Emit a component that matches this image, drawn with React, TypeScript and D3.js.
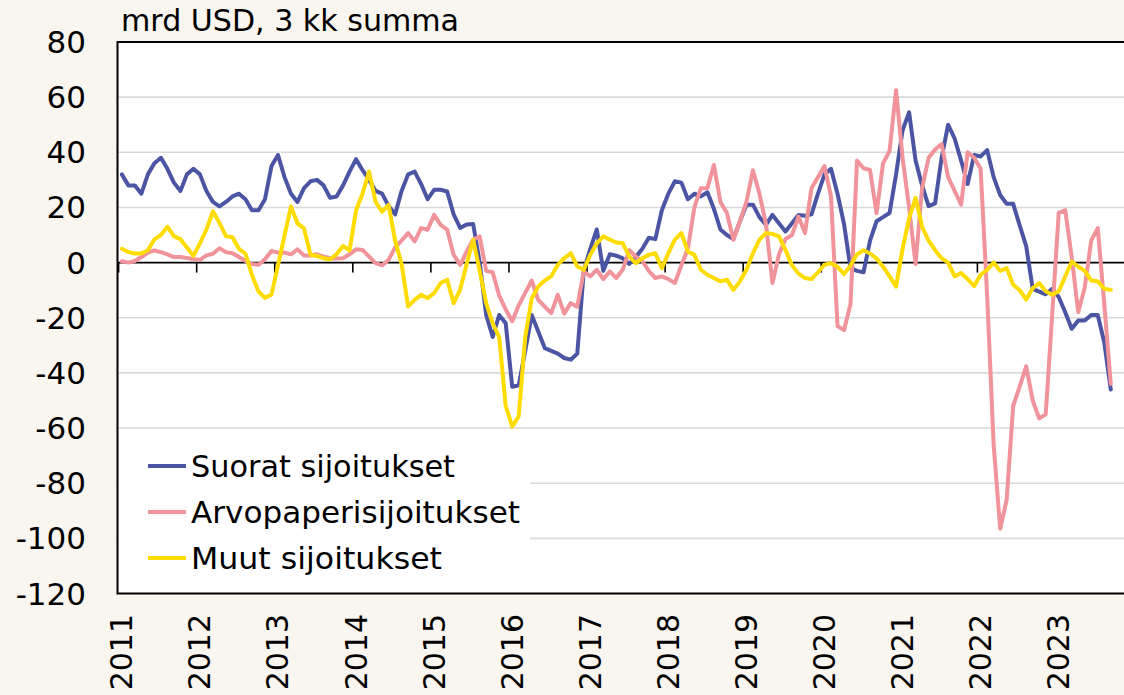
import React from 'react';
import * as d3 from 'd3';

// Category axis: monthly, Jan 2011 .. Dec 2023 (labels every 12 months)
const years = ['2011', '2012', '2013', '2014', '2015', '2016', '2017', '2018', '2019', '2020', '2021', '2022', '2023'];

// mrd USD, 3 kk summa — Jan 2011 .. Sep 2023
const suorat = [
  32, 28, 28, 25, 32, 36, 38, 34, 29, 26, 32, 34,
  32, 26, 22, 20.4, 22, 24, 25, 23, 19, 19, 23, 35,
  39, 31, 25, 22, 27, 29.5, 30, 28, 23.5, 24, 28, 33,
  37.5, 33.5, 30, 26, 25, 20.5, 17.5, 26, 32, 33, 28.5, 23,
  26.4, 26.4, 25.8, 17.5, 12.6, 13.8, 14, 0, -19, -27, -19, -22,
  -45, -44.5, -32, -19, -25, -31, -32, -33, -34.6, -35.2, -33, -3,
  5, 12, -3, 3, 2.5, 1.5, -0.5, 2, 5, 9, 8.5, 19,
  25, 29.5, 29, 23, 25, 24, 25.5, 19.5, 12, 10, 8.5, 15,
  21, 21, 16.5, 13.7, 17.3, 14.3, 11.3, 14.3, 17.3, 17, 17.5, 25,
  32, 34, 25, 14, -2, -3, -3.5, 8, 15, 16.5, 18, 32,
  48, 54.5, 37, 28, 20.5, 21.5, 38, 50, 45, 37, 28.5, 39,
  38.5, 40.8, 31, 24.5, 21.3, 21.3, 13.5, 6, -9.5, -10.5, -11.5, -9.5,
  -12.5, -18, -24, -21, -21, -19, -19, -29, -46,
];

const arvopaperi = [
  0.5, 0, 0.6, 2, 3.6, 4.4, 3.8, 3, 2, 2, 1.7, 1.2,
  1, 2.6, 3.2, 5.2, 3.8, 3.4, 2, 0.6, -0.5, -0.8, 1.2, 4.2,
  3.6, 3.6, 3, 4.8, 2.6, 2.6, 3, 2.2, 1.6, 1.5, 1.6, 3,
  4.8, 4.6, 2.2, -0.2, -1, 1, 5.5, 8, 10.7, 7.7, 12.5, 11.9,
  17.3, 13.7, 12, 2.8, -0.8, 4, 8.3, 9.5, -3, -3.5, -12, -17,
  -21.3, -15.5, -11, -6.5, -13.5, -16, -18.3, -11.7, -18.5, -14.7, -16, -3.2,
  -5, -2.6, -6, -3.2, -5.6, -2.5, 4.5, 2.2, 0.5, -3, -5.6, -5,
  -6, -7.4, -1, 5, 20, 27, 27, 35.4, 22, 18, 8.3, 15,
  22, 33.5, 25, 14, -7.4, 3, 8.5, 10, 16.7, 10.7, 27, 31,
  35, 24, -23, -24.5, -15, 37, 34.2, 33.6, 17.9, 36, 40.5, 62.5,
  38, 20, -0.5, 27, 38, 41, 43, 31, 26, 21, 40, 38,
  34, -12, -66, -96.5, -86, -52, -45, -37.6, -50, -56.5, -55, -19,
  18, 19, 2, -18, -9, 8, 12.5, -15, -44,
];

const muut = [
  5, 3.8, 3.3, 3.3, 4.5, 8.4, 10, 13, 9.6, 8.5, 5.5, 2.4,
  7, 12, 18.6, 14.4, 9.6, 9.2, 5, 3.2, -4.5, -10.5, -12.8, -11.6,
  -1, 9.8, 20.4, 14.2, 12.4, 2.8, 2.4, 1.6, 1.2, 3, 6, 4.5,
  19, 25, 33, 22, 18.5, 20.9, 8, -0.5, -15.9, -13.5, -11.7, -12.9,
  -11.1, -7.4, -6.2, -14.7, -9.8, -0.5, 8.3, -3, -14.7, -22, -27, -52,
  -59.5, -55.7, -27, -13, -8.7, -6.5, -5, -0.8, 1.6, 3.4, -1.4, -2.6,
  2.8, 7, 9.5, 8.3, 7.3, 7, 2.2, -0.2, 1.6, 2.8, 3.4, -2,
  3.4, 8.3, 10.7, 4, 2.8, -2.6, -4.4, -5.6, -6.8, -6.2, -9.9, -6.8,
  -2.6, 3.4, 8.3, 10.7, 10.4, 9.5, 4.6, -1, -4, -5.6, -6, -3.5,
  -0.8, -0.2, -1.5, -4.2, -1, 3, 4.5, 3.3, 1.5, -1.5, -5, -8.7,
  5, 16, 23.5, 13, 8, 4.5, 1.6, 0, -5, -3.8, -6, -8.5,
  -4.4, -2.6, 0, -3, -2, -8, -10, -13.4, -9.3, -7.4, -10.4, -11.7,
  -10.4, -5, 0.4, -1.5, -3, -6.5, -6.8, -9.5, -9.9,
];

const yTicks = [80, 60, 40, 20, 0, -20, -40, -60, -80, -100, -120];
const seriesNames = ['Suorat sijoitukset', 'Arvopaperisijoitukset', 'Muut sijoitukset'];
const seriesColors = ['#4b55a3', '#f0939a', '#ffdc00'];
const legendTextWidths = [264, 329, 251];

const FONT = "'DejaVu Sans', 'Liberation Sans', Arial, sans-serif";

export default function App() {
  const W = 1124;
  const H = 695;
  const nCats = years.length * 12;
  const cats = d3.range(nCats);

  const x = d3.scaleBand<number>().domain(cats).range([118.6, 118.6 + 6.506 * nCats]).padding(0);
  const y = d3.scaleLinear().domain([-120, 80]).range([593.5, 42]);
  const cx = (i: number) => (x(i) as number) + x.bandwidth() / 2;

  const line = d3
    .line<number>()
    .x((_, i) => cx(i))
    .y((d) => y(d));

  const plotL = 117.5;
  const plotR = 1140;
  const plotT = y(80);
  const plotB = y(-120);

  const series = [suorat, arvopaperi, muut];

  return (
    <svg
      width={W}
      height={H}
      style={{ position: 'absolute', left: 0, top: 0, display: 'block' }}
      fontFamily={FONT}
    >
      <rect x={0} y={0} width={W} height={H} fill="#f9f5ef" />
      <rect x={plotL} y={plotT} width={plotR - plotL} height={plotB - plotT} fill="#ffffff" />

      {/* gridlines */}
      {yTicks
        .filter((t) => t !== 80 && t !== -120 && t !== 0)
        .map((t) => (
          <line key={t} x1={plotL} x2={plotR} y1={y(t)} y2={y(t)} stroke="#d9d9d9" strokeWidth={1.6} />
        ))}

      {/* zero axis with year ticks */}
      <line x1={plotL} x2={plotR} y1={y(0)} y2={y(0)} stroke="#000" strokeWidth={1.6} />
      {years.map((yr, k) => (
        <line
          key={'t' + yr}
          x1={x(k * 12) as number}
          x2={x(k * 12) as number}
          y1={y(0)}
          y2={y(0) + 10}
          stroke="#000"
          strokeWidth={1.6}
        />
      ))}

      {/* plot border */}
      <rect
        x={plotL}
        y={plotT}
        width={plotR - plotL}
        height={plotB - plotT}
        fill="none"
        stroke="#000"
        strokeWidth={2}
      />

      {/* series lines */}
      {series.map((s, k) => (
        <path
          key={seriesNames[k]}
          d={line(s) || ''}
          fill="none"
          stroke={seriesColors[k]}
          strokeWidth={4}
          strokeLinejoin="round"
          strokeLinecap="round"
        />
      ))}

      {/* legend */}
      <rect x={119} y={440} width={411} height={146} fill="#ffffff" />
      {seriesNames.map((n, k) => {
        const ly = 466 + k * 46;
        return (
          <g key={'lg' + n}>
            <line x1={148} x2={186} y1={ly} y2={ly} stroke={seriesColors[k]} strokeWidth={4} />
            <text
              x={191}
              y={ly}
              dominantBaseline="central"
              fontSize={30}
              fill="#000"
              textLength={legendTextWidths[k]}
              lengthAdjust="spacingAndGlyphs"
            >
              {n}
            </text>
          </g>
        );
      })}

      {/* y tick labels */}
      {yTicks.map((t) => (
        <text
          key={'yl' + t}
          x={86}
          y={y(t)}
          textAnchor="end"
          dominantBaseline="central"
          fontSize={31}
          fill="#000"
        >
          {t}
        </text>
      ))}

      {/* x tick labels */}
      {years.map((yr, k) => (
        <text
          key={'xl' + yr}
          transform={`translate(${cx(k * 12)},${614}) rotate(-90)`}
          textAnchor="end"
          dominantBaseline="central"
          fontSize={30}
          fill="#000"
        >
          {yr}
        </text>
      ))}

      {/* title */}
      <text x={121} y={31} fontSize={30} fill="#000" textLength={338} lengthAdjust="spacingAndGlyphs">
        mrd USD, 3 kk summa
      </text>
    </svg>
  );
}
